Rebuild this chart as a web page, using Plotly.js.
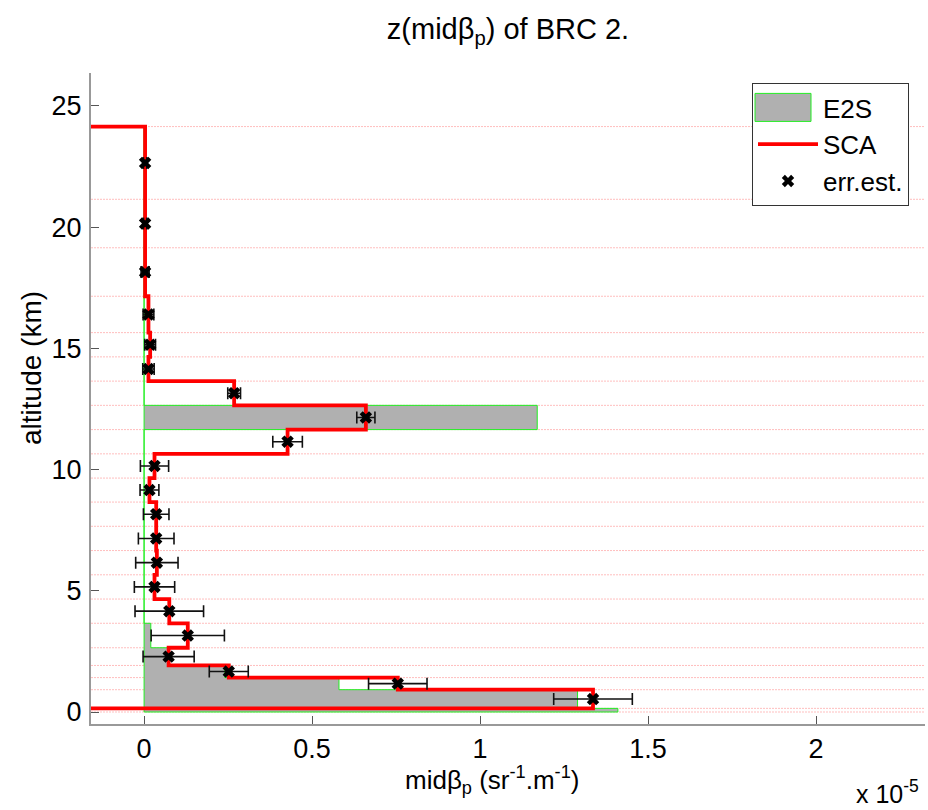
<!DOCTYPE html>
<html>
<head>
<meta charset="utf-8">
<script src="https://cdn.plot.ly/plotly-3.0.1.min.js"></script>
<style>html,body{margin:0;padding:0;background:#fff;}#chart{width:928px;height:810px;}</style>
</head>
<body>
<div id="chart"></div>
<script>
// Layer boundaries (km), bottom to top
const boundaries = [0, 0.15, 0.92, 1.42, 1.92, 2.65, 3.66, 4.66, 5.66, 6.66, 7.66, 8.66, 9.65, 10.65, 11.65, 12.65, 13.65, 14.65, 15.65, 17.15, 19.15, 21.15, 24.15];
// E2S value per layer (x 1e-5 sr^-1 m^-1), layers from ground up (22 layers)
const e2sValues = [1.41, 1.29, 0.58, 0.24, 0.07, 0.02, 0, 0, 0, 0, 0, 0, 0, 0, 1.17, 0, 0, 0, 0, 0, 0, 0];
// SCA value per layer, from the 2nd layer (0.15 km) upward (21 layers)
const scaValues = [1.336, 0.755, 0.252, 0.073, 0.13, 0.075, 0.031, 0.038, 0.036, 0.036, 0.016, 0.031, 0.427, 0.66, 0.268, 0.013, 0.018, 0.013, 0.003, 0.003, 0.003];
// error estimate: point values and half-widths, same layers as SCA
const errValues = [1.336, 0.755, 0.252, 0.073, 0.13, 0.075, 0.031, 0.038, 0.036, 0.036, 0.016, 0.031, 0.427, 0.66, 0.268, 0.013, 0.018, 0.013, 0.003, 0.003, 0.003];
const errWidths = [0.117, 0.087, 0.058, 0.076, 0.109, 0.102, 0.06, 0.063, 0.053, 0.038, 0.028, 0.042, 0.044, 0.027, 0.019, 0.017, 0.016, 0.016, 0.012, 0.005, 0.005];
const xTicks = [0, 0.5, 1, 1.5, 2];
const xTickLabels = ['0', '0.5', '1', '1.5', '2'];
const yTicks = [0, 5, 10, 15, 20, 25];
const yTickLabels = ['0', '5', '10', '15', '20', '25'];

const xRange = [-0.158, 2.324];
const yRange = [-0.495, 26.36];

// E2S stairs polygon from x = 0
const e2sX = [0], e2sY = [boundaries[0]];
for (let i = 0; i < e2sValues.length; i++) {
  e2sX.push(e2sValues[i], e2sValues[i]);
  e2sY.push(boundaries[i], boundaries[i + 1]);
}
e2sX.push(0); e2sY.push(boundaries[boundaries.length - 1]);
e2sX.push(0); e2sY.push(boundaries[0]);

// SCA stairs, closing to the left edge at both ends
const scaX = [xRange[0]], scaY = [boundaries[1]];
for (let i = 0; i < scaValues.length; i++) {
  scaX.push(scaValues[i], scaValues[i]);
  scaY.push(boundaries[i + 1], boundaries[i + 2]);
}
scaX.push(xRange[0]); scaY.push(boundaries[boundaries.length - 1]);

const errY = [];
for (let i = 0; i < errValues.length; i++) errY.push((boundaries[i + 1] + boundaries[i + 2]) / 2);

const font = 'Liberation Sans, Arial, Helvetica, sans-serif';
const L = 91, R = 3, T = 73, B = 86, W = 928, H = 810;
const pw = W - L - R, ph = H - T - B;

const traces = [
  {x: e2sX, y: e2sY, type: 'scatter', mode: 'lines', name: 'E2S', fill: 'toself',
   fillcolor: '#b0b0b0', line: {color: '#22ee22', width: 1}},
  {x: scaX, y: scaY, type: 'scatter', mode: 'lines', name: 'SCA',
   line: {color: '#ff0000', width: 3.8}},
  {x: errValues, y: errY, type: 'scatter', mode: 'markers', name: 'err.est.',
   marker: {symbol: 'x', size: 11, color: '#000'},
   error_x: {type: 'data', array: errWidths, visible: true, color: '#111', thickness: 1.6, width: 6}}
];

const shapes = boundaries.map(b => ({
  type: 'line', xref: 'paper', x0: 0, x1: 1, yref: 'y', y0: b, y1: b, layer: 'below',
  line: {color: 'rgba(255,70,70,0.35)', width: 1, dash: '2px,1px'}
}));

const layout = {
  width: W, height: H,
  margin: {l: L, r: R, t: T, b: B},
  paper_bgcolor: '#fff', plot_bgcolor: '#fff',
  font: {family: font, color: '#000', size: 26},
  title: {text: 'z(midβ<sub>p</sub>) of BRC 2.', font: {family: font, size: 29, color: '#000'},
          xref: 'paper', x: 0.5, xanchor: 'center', yref: 'container', y: 0.964, yanchor: 'middle'},
  showlegend: true,
  legend: {x: (909 - L) / pw, xanchor: 'right', y: (H - B - 83) / ph, yanchor: 'top', bgcolor: '#fff',
           bordercolor: '#333', borderwidth: 1, font: {family: font, size: 26, color: '#000'},
           itemwidth: 60, tracegroupgap: 0},
  xaxis: {range: xRange, tickvals: xTicks, ticktext: xTickLabels, ticks: 'inside', ticklen: 8,
          tickcolor: '#555', showline: true, linecolor: '#999', linewidth: 2, showgrid: false,
          zeroline: false, tickfont: {family: font, size: 27, color: '#000'}, ticklabelstandoff: 0},
  yaxis: {range: yRange, tickvals: yTicks, ticktext: yTickLabels, ticks: 'inside', ticklen: 8,
          tickcolor: '#555', showline: true, linecolor: '#999', linewidth: 2, showgrid: false,
          zeroline: false, tickfont: {family: font, size: 27, color: '#000'}, ticklabelstandoff: 2},
  shapes: shapes,
  annotations: [
    {text: 'midβ<sub>p</sub> (sr<sup>-1</sup>.m<sup>-1</sup>)', xref: 'paper', yref: 'paper',
     x: (492 - L) / pw, y: (H - B - 780) / ph, xanchor: 'center', yanchor: 'middle', showarrow: false,
     font: {family: font, size: 26, color: '#000'}},
    {text: 'x 10<sup>-5</sup>', xref: 'paper', yref: 'paper', x: (921 - L) / pw, y: (H - B - 792) / ph,
     xanchor: 'right', yanchor: 'middle', showarrow: false, font: {family: font, size: 25, color: '#000'}},
    {text: 'altitude (km)', xref: 'paper', yref: 'paper', x: (31 - L) / pw, y: (H - B - 368) / ph,
     xanchor: 'center', yanchor: 'middle', textangle: -90, showarrow: false,
     font: {family: font, size: 28, color: '#000'}}
  ]
};

Plotly.newPlot('chart', traces, layout, {staticPlot: true, displayModeBar: false}).then(gd => {
  // enlarge the E2S legend swatch to a bordered rectangle
  const items = gd.querySelectorAll('.legend .traces');
  if (items.length) {
    const first = items[0];
    first.querySelectorAll('.legendfill path').forEach(p => {
      p.setAttribute('d', 'M2,-14h56v28h-56z');
      p.style.stroke = '#22ee22';
      p.style.strokeWidth = '1px';
    });
    first.querySelectorAll('.legendlines path').forEach(p => { p.style.display = 'none'; });
  }
});
</script>
</body>
</html>
